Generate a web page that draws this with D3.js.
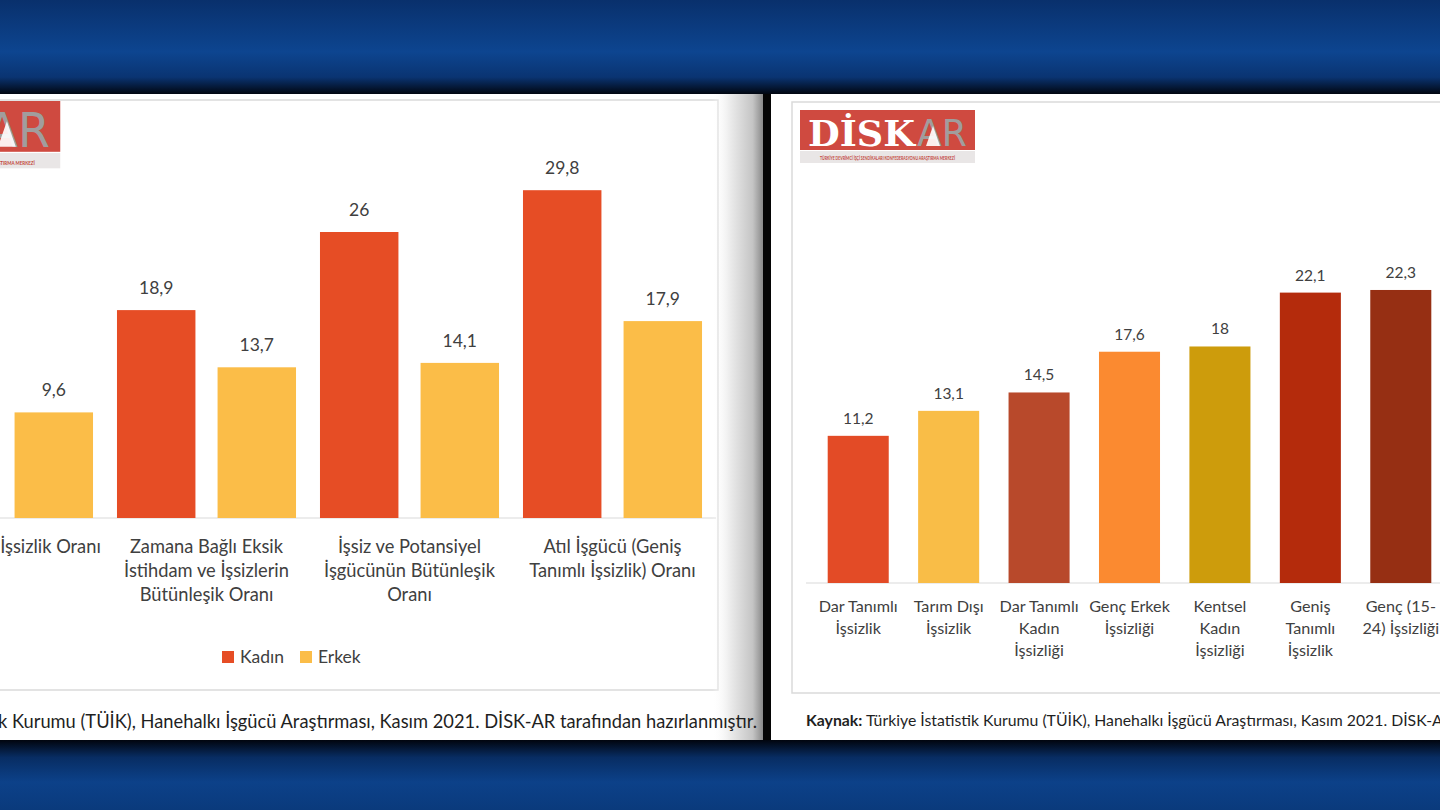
<!DOCTYPE html>
<html><head><meta charset="utf-8">
<script src="https://cdn.jsdelivr.net/npm/d3@7"></script>
<style>html,body{margin:0;padding:0;background:#0b3b80;overflow:hidden}</style>
</head><body>
<svg id="c" width="1440" height="810"></svg>
<script>
// ---------- data ----------
const leftCategories = [
  "Dar Tanımlı İşsizlik Oranı",
  "Zamana Bağlı Eksik\nİstihdam ve İşsizlerin\nBütünleşik Oranı",
  "İşsiz ve Potansiyel\nİşgücünün Bütünleşik\nOranı",
  "Atıl İşgücü (Geniş\nTanımlı İşsizlik) Oranı"
];
const leftSeries = ["Kadın", "Erkek"];
const leftKadin = [14.5, 18.9, 26, 29.8];
const leftErkek = [9.6, 13.7, 14.1, 17.9];
const leftColors = ["#e64d25", "#fbbd48"];

const rightCategories = [
  "Dar Tanımlı\nİşsizlik",
  "Tarım Dışı\nİşsizlik",
  "Dar Tanımlı\nKadın\nİşsizliği",
  "Genç Erkek\nİşsizliği",
  "Kentsel\nKadın\nİşsizliği",
  "Geniş\nTanımlı\nİşsizlik",
  "Genç (15-\n24) İşsizliği"
];
const rightValues = [11.2, 13.1, 14.5, 17.6, 18, 22.1, 22.3];
const rightColors = ["#e34b26", "#f9bd47", "#b8492b", "#fb8a30", "#cd9c0c", "#b42b0c", "#962f13"];

const sourceLabel = "Kaynak:";
const sourceText = " Türkiye İstatistik Kurumu (TÜİK), Hanehalkı İşgücü Araştırması, Kasım 2021. DİSK-AR tarafından hazırlanmıştır.";
const logoMain = "DİSK";
const logoSub = "AR";
const logoStrip = "TÜRKİYE DEVRİMCİ İŞÇİ SENDİKALARI KONFEDERASYONU ARAŞTIRMA MERKEZİ";

const fmt = v => String(v).replace(".", ",");
const FONT = "Lato, 'Open Sans', sans-serif";

// ---------- scene ----------
const svg = d3.select("#c");
const defs = svg.append("defs");

const gTop = defs.append("linearGradient").attr("id", "bgTop")
  .attr("gradientUnits", "userSpaceOnUse").attr("x1", 0).attr("y1", 0).attr("x2", 0).attr("y2", 94);
[[0, "#09306c"], [0.55, "#0d4590"], [0.82, "#0a3472"], [1, "#010610"]]
  .forEach(([o, c]) => gTop.append("stop").attr("offset", o).attr("stop-color", c));

const gBot = defs.append("linearGradient").attr("id", "bgBot")
  .attr("gradientUnits", "userSpaceOnUse").attr("x1", 0).attr("y1", 740).attr("x2", 0).attr("y2", 810);
[[0, "#01050e"], [0.25, "#082d63"], [0.6, "#0c4189"], [1, "#0a3a7c"]]
  .forEach(([o, c]) => gBot.append("stop").attr("offset", o).attr("stop-color", c));

const gShade = defs.append("linearGradient").attr("id", "shade")
  .attr("gradientUnits", "userSpaceOnUse").attr("x1", 712).attr("y1", 0).attr("x2", 763).attr("y2", 0);
[[0, "#ffffff", 0], [0.35, "#ececec", 1], [0.8, "#c4c4c4", 1], [1, "#8a8a8a", 1]]
  .forEach(([o, c, a]) => gShade.append("stop").attr("offset", o).attr("stop-color", c).attr("stop-opacity", a));

defs.append("clipPath").attr("id", "clipL").append("rect")
  .attr("x", 0).attr("y", 94).attr("width", 762).attr("height", 646);
defs.append("clipPath").attr("id", "clipR").append("rect")
  .attr("x", 771).attr("y", 94).attr("width", 669).attr("height", 646);

svg.append("rect").attr("width", 1440).attr("height", 810).attr("fill", "#050505");
svg.append("rect").attr("width", 1440).attr("height", 94).attr("fill", "url(#bgTop)");
svg.append("rect").attr("y", 740).attr("width", 1440).attr("height", 70).attr("fill", "url(#bgBot)");

// panels
svg.append("rect").attr("x", 0).attr("y", 94).attr("width", 762).attr("height", 646).attr("fill", "#ffffff");
svg.append("rect").attr("x", 771).attr("y", 94).attr("width", 669).attr("height", 646).attr("fill", "#ffffff");

// ---------- logo ----------
function drawLogo(parent, tx, ty, s) {
  const g = parent.append("g").attr("transform", `translate(${tx},${ty}) scale(${s})`);
  g.append("rect").attr("width", 175).attr("height", 40).attr("fill", "#cf4a40");
  g.append("rect").attr("y", 41).attr("width", 175).attr("height", 12).attr("fill", "#e9e6e6");
  g.append("text").attr("x", 8).attr("y", 36).attr("font-family", "'DejaVu Serif', serif")
    .attr("font-weight", "bold").attr("font-size", 36).attr("fill", "#ffffff")
    .attr("textLength", 107).attr("lengthAdjust", "spacingAndGlyphs").text(logoMain);
  g.append("text").attr("x", 117).attr("y", 36).attr("font-family", "'DejaVu Sans', sans-serif")
    .attr("font-size", 38).attr("fill", "#a19d9d")
    .attr("textLength", 50).attr("lengthAdjust", "spacingAndGlyphs").text(logoSub);
  g.append("path").attr("d", "M126,36 L133,16 L140,36 Z").attr("fill", "#ffffff").attr("opacity", 0.9);
  g.append("text").attr("x", 20).attr("y", 50).attr("font-family", FONT).attr("font-weight", "bold")
    .attr("font-size", 5).attr("fill", "#c2453a")
    .attr("textLength", 135).attr("lengthAdjust", "spacingAndGlyphs").text(logoStrip);
}

// ---------- left panel ----------
const L = svg.append("g").attr("clip-path", "url(#clipL)");
L.append("rect").attr("x", -10).attr("y", 100).attr("width", 728).attr("height", 590)
  .attr("fill", "none").attr("stroke", "#dadada").attr("stroke-width", 1.5);
drawLogo(L, -162, 101, 1.27);

const xL = d3.scaleBand().domain(leftCategories).range([-98, 714]).paddingInner(0.118).paddingOuter(0.059);
const xLs = d3.scaleBand().domain(leftSeries).range([0, xL.bandwidth()]).paddingInner(0.22);
const yL = d3.scaleLinear().domain([0, 30]).range([518, 188]);

L.append("line").attr("x1", 0).attr("x2", 716).attr("y1", yL(0)).attr("y2", yL(0))
  .attr("stroke", "#d9d9d9").attr("stroke-width", 1);

const leftData = leftCategories.map((c, i) => ({c, vals: [leftKadin[i], leftErkek[i]]}));
const grp = L.selectAll("g.grp").data(leftData).join("g").attr("class", "grp")
  .attr("transform", d => `translate(${xL(d.c)},0)`);
grp.selectAll("rect").data(d => d.vals.map((v, j) => ({s: leftSeries[j], v, j})))
  .join("rect")
  .attr("x", d => xLs(d.s)).attr("width", xLs.bandwidth())
  .attr("y", d => yL(d.v)).attr("height", d => yL(0) - yL(d.v))
  .attr("fill", d => leftColors[d.j]);
grp.selectAll("text.val").data(d => d.vals.map((v, j) => ({s: leftSeries[j], v})))
  .join("text").attr("class", "val")
  .attr("x", d => xLs(d.s) + xLs.bandwidth() / 2).attr("y", d => yL(d.v) - 16)
  .attr("text-anchor", "middle").attr("font-family", FONT).attr("font-size", 17.5)
  .attr("fill", "#404040").text(d => fmt(d.v));

const catL = L.selectAll("text.cat").data(leftCategories).join("text").attr("class", "cat")
  .attr("text-anchor", "middle").attr("font-family", FONT).attr("font-size", 18.3).attr("fill", "#404040");
catL.each(function(c) {
  const t = d3.select(this);
  c.split("\n").forEach((line, k) => {
    t.append("tspan").attr("x", xL(c) + xL.bandwidth() / 2).attr("y", 553 + k * 24).text(line);
  });
});

// legend
const legL = L.append("g");
leftSeries.forEach((s, i) => {
  const lx = 222 + i * 78;
  legL.append("rect").attr("x", lx).attr("y", 651).attr("width", 12).attr("height", 12).attr("fill", leftColors[i]);
  legL.append("text").attr("x", lx + 18).attr("y", 663).attr("font-family", FONT).attr("font-size", 17.5)
    .attr("fill", "#404040").text(s);
});

// shading on right edge of left panel
svg.append("rect").attr("x", 712).attr("y", 94).attr("width", 51).attr("height", 646).attr("fill", "url(#shade)");

// source (drawn once, above the shade)
svg.append("g").attr("clip-path", "url(#clipL)")
  .append("text").attr("x", 757).attr("y", 728).attr("text-anchor", "end")
  .attr("font-family", FONT).attr("font-size", 18.3).attr("fill", "#1f1f1f")
  .call(t => { t.append("tspan").attr("font-weight", "bold").text(sourceLabel); t.append("tspan").text(sourceText); });

// ---------- right panel ----------
const R = svg.append("g").attr("clip-path", "url(#clipR)");
R.append("rect").attr("x", 792).attr("y", 102).attr("width", 670).attr("height", 591)
  .attr("fill", "none").attr("stroke", "#dadada").attr("stroke-width", 1.5);
drawLogo(R, 800, 110, 1);

const xR = d3.scaleBand().domain(rightCategories).range([813, 1446]).paddingInner(0.325).paddingOuter(0.1625);
const yR = d3.scaleLinear().domain([0, 25]).range([583, 254.5]);

R.append("line").attr("x1", 806).attr("x2", 1440).attr("y1", yR(0)).attr("y2", yR(0))
  .attr("stroke", "#d9d9d9").attr("stroke-width", 1);

const rightData = rightCategories.map((c, i) => ({c, v: rightValues[i], col: rightColors[i]}));
R.selectAll("rect.bar").data(rightData).join("rect").attr("class", "bar")
  .attr("x", d => xR(d.c)).attr("width", xR.bandwidth())
  .attr("y", d => yR(d.v)).attr("height", d => yR(0) - yR(d.v)).attr("fill", d => d.col);
R.selectAll("text.val").data(rightData).join("text").attr("class", "val")
  .attr("x", d => xR(d.c) + xR.bandwidth() / 2).attr("y", d => yR(d.v) - 12)
  .attr("text-anchor", "middle").attr("font-family", FONT).attr("font-size", 15.5)
  .attr("fill", "#404040").text(d => fmt(d.v));
const catR = R.selectAll("text.cat").data(rightCategories).join("text").attr("class", "cat")
  .attr("text-anchor", "middle").attr("font-family", FONT).attr("font-size", 16.2).attr("fill", "#404040");
catR.each(function(c) {
  const t = d3.select(this);
  c.split("\n").forEach((line, k) => {
    t.append("tspan").attr("x", xR(c) + xR.bandwidth() / 2).attr("y", 612 + k * 22).text(line);
  });
});

R.append("text").attr("x", 806).attr("y", 726)
  .attr("font-family", FONT).attr("font-size", 15.8).attr("fill", "#1f1f1f")
  .call(t => { t.append("tspan").attr("font-weight", "bold").text(sourceLabel); t.append("tspan").text(sourceText); });
</script>
</body></html>
